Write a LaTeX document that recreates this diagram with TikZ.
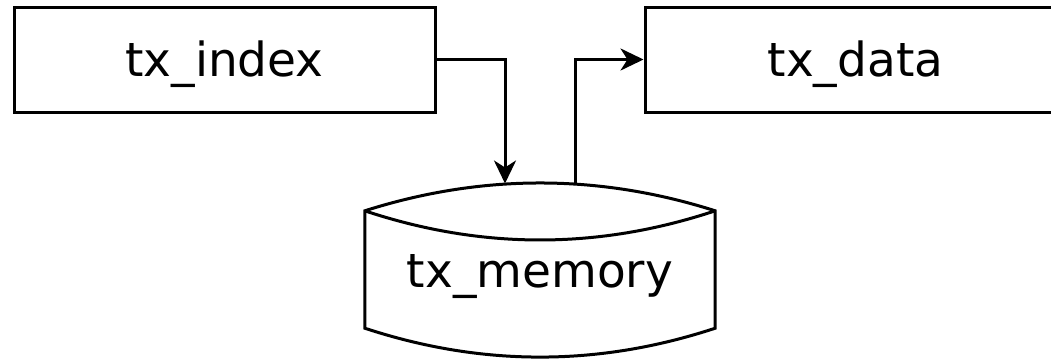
\documentclass[tikz,border=0pt]{standalone}
\usepackage{fontspec}
\setmainfont{DejaVu Sans}
\usetikzlibrary{arrows.meta}
\tikzset{
  box/.style={draw, line width=3pt, minimum width=421pt, minimum height=105pt,
    inner sep=0pt, font=\fontsize{47}{56}\selectfont, text height=34pt, text depth=0pt},
  store/.style={minimum width=350pt, minimum height=174pt, inner sep=0pt,
    font=\fontsize{47}{56}\selectfont, text height=34pt, text depth=0pt},
  outline/.style={line width=3pt, line join=miter},
  flow/.style={line width=3pt, -{Stealth[length=23pt, width=22pt, inset=7pt]}},
}
\begin{document}
\begin{tikzpicture}[x=1pt, y=-1pt]
\clip (0,0) rectangle (1051,359);
\node[box] (idx) at (224.5,59.5) {tx\_index};
\node[box] (dat) at (855.5,59.5) {tx\_data};
\node[store] (mem) at (540,270) {tx\_memory};
% cylinder outline
\coordinate (tl) at ([yshift=-28pt]mem.north west);
\coordinate (tr) at ([yshift=-28pt]mem.north east);
\coordinate (bl) at ([yshift=29pt]mem.south west);
\coordinate (br) at ([yshift=29pt]mem.south east);
\draw[outline] (tl) .. controls (481.7,173.7) and (598.3,173.7) .. (tr)
  -- (br) .. controls (598.3,366.7) and (481.7,366.7) .. (bl) -- cycle;
\draw[outline] (tl) .. controls (481.7,249.7) and (598.3,249.7) .. (tr);
% connectors
\coordinate (in) at (505,183.5);
\coordinate (out) at (575,184);
\draw[flow] (idx.east) -| (in);
\draw[flow] (out) |- (dat.west);
\end{tikzpicture}
\end{document}
